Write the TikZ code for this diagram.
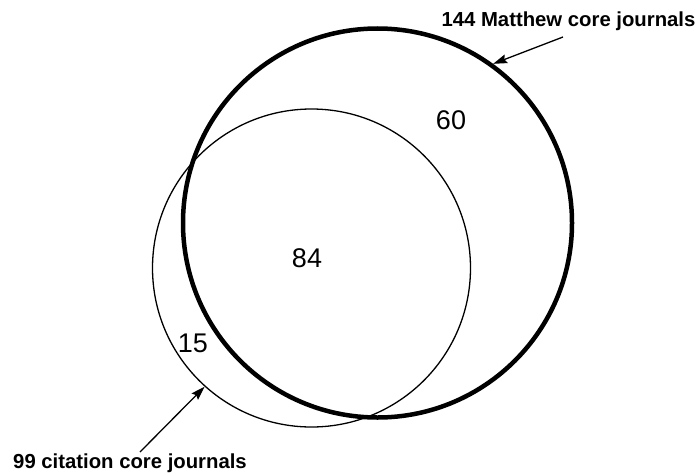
\documentclass[tikz,border=0pt]{standalone}
\usepackage{fontspec}
\setmainfont{Liberation Sans}
\usetikzlibrary{arrows.meta}
\tikzset{
  setcircle/.style={circle, draw=black, inner sep=0pt, fill=none},
  labeltext/.style={font=\fontsize{20.3}{24}\selectfont\bfseries, inner sep=0pt, anchor=base},
  numtext/.style={font=\fontsize{27}{32}\selectfont, inner sep=0pt},
  pointer/.style={line width=1.3pt, -{Stealth[length=14pt,width=9pt,inset=2pt]}}
}
\begin{document}
\begin{tikzpicture}[x=1pt,y=1pt]
\useasboundingbox (0,0) rectangle (700,475);
\node[setcircle, line width=1.3pt, minimum size=318pt] (citation) at (311.5,207) {};
\node[setcircle, line width=4.5pt, minimum size=389pt] (matthew) at (377.5,252) {};
\node[labeltext] (mlabel) at (568.5,448) {144 Matthew core journals};
\node[labeltext] (clabel) at (130,7) {99 citation core journals};
\coordinate (mstart) at (563,438);
\coordinate (cstart) at (140,23);
\draw[pointer] (mstart) -- (matthew.54.9);
\draw[pointer] (cstart) -- (citation.228.2);
\node[numtext] (n60) at (451,355) {60};
\node[numtext] (n84) at (307,217) {84};
\node[numtext] (n15) at (193,132) {15};
\end{tikzpicture}
\end{document}
